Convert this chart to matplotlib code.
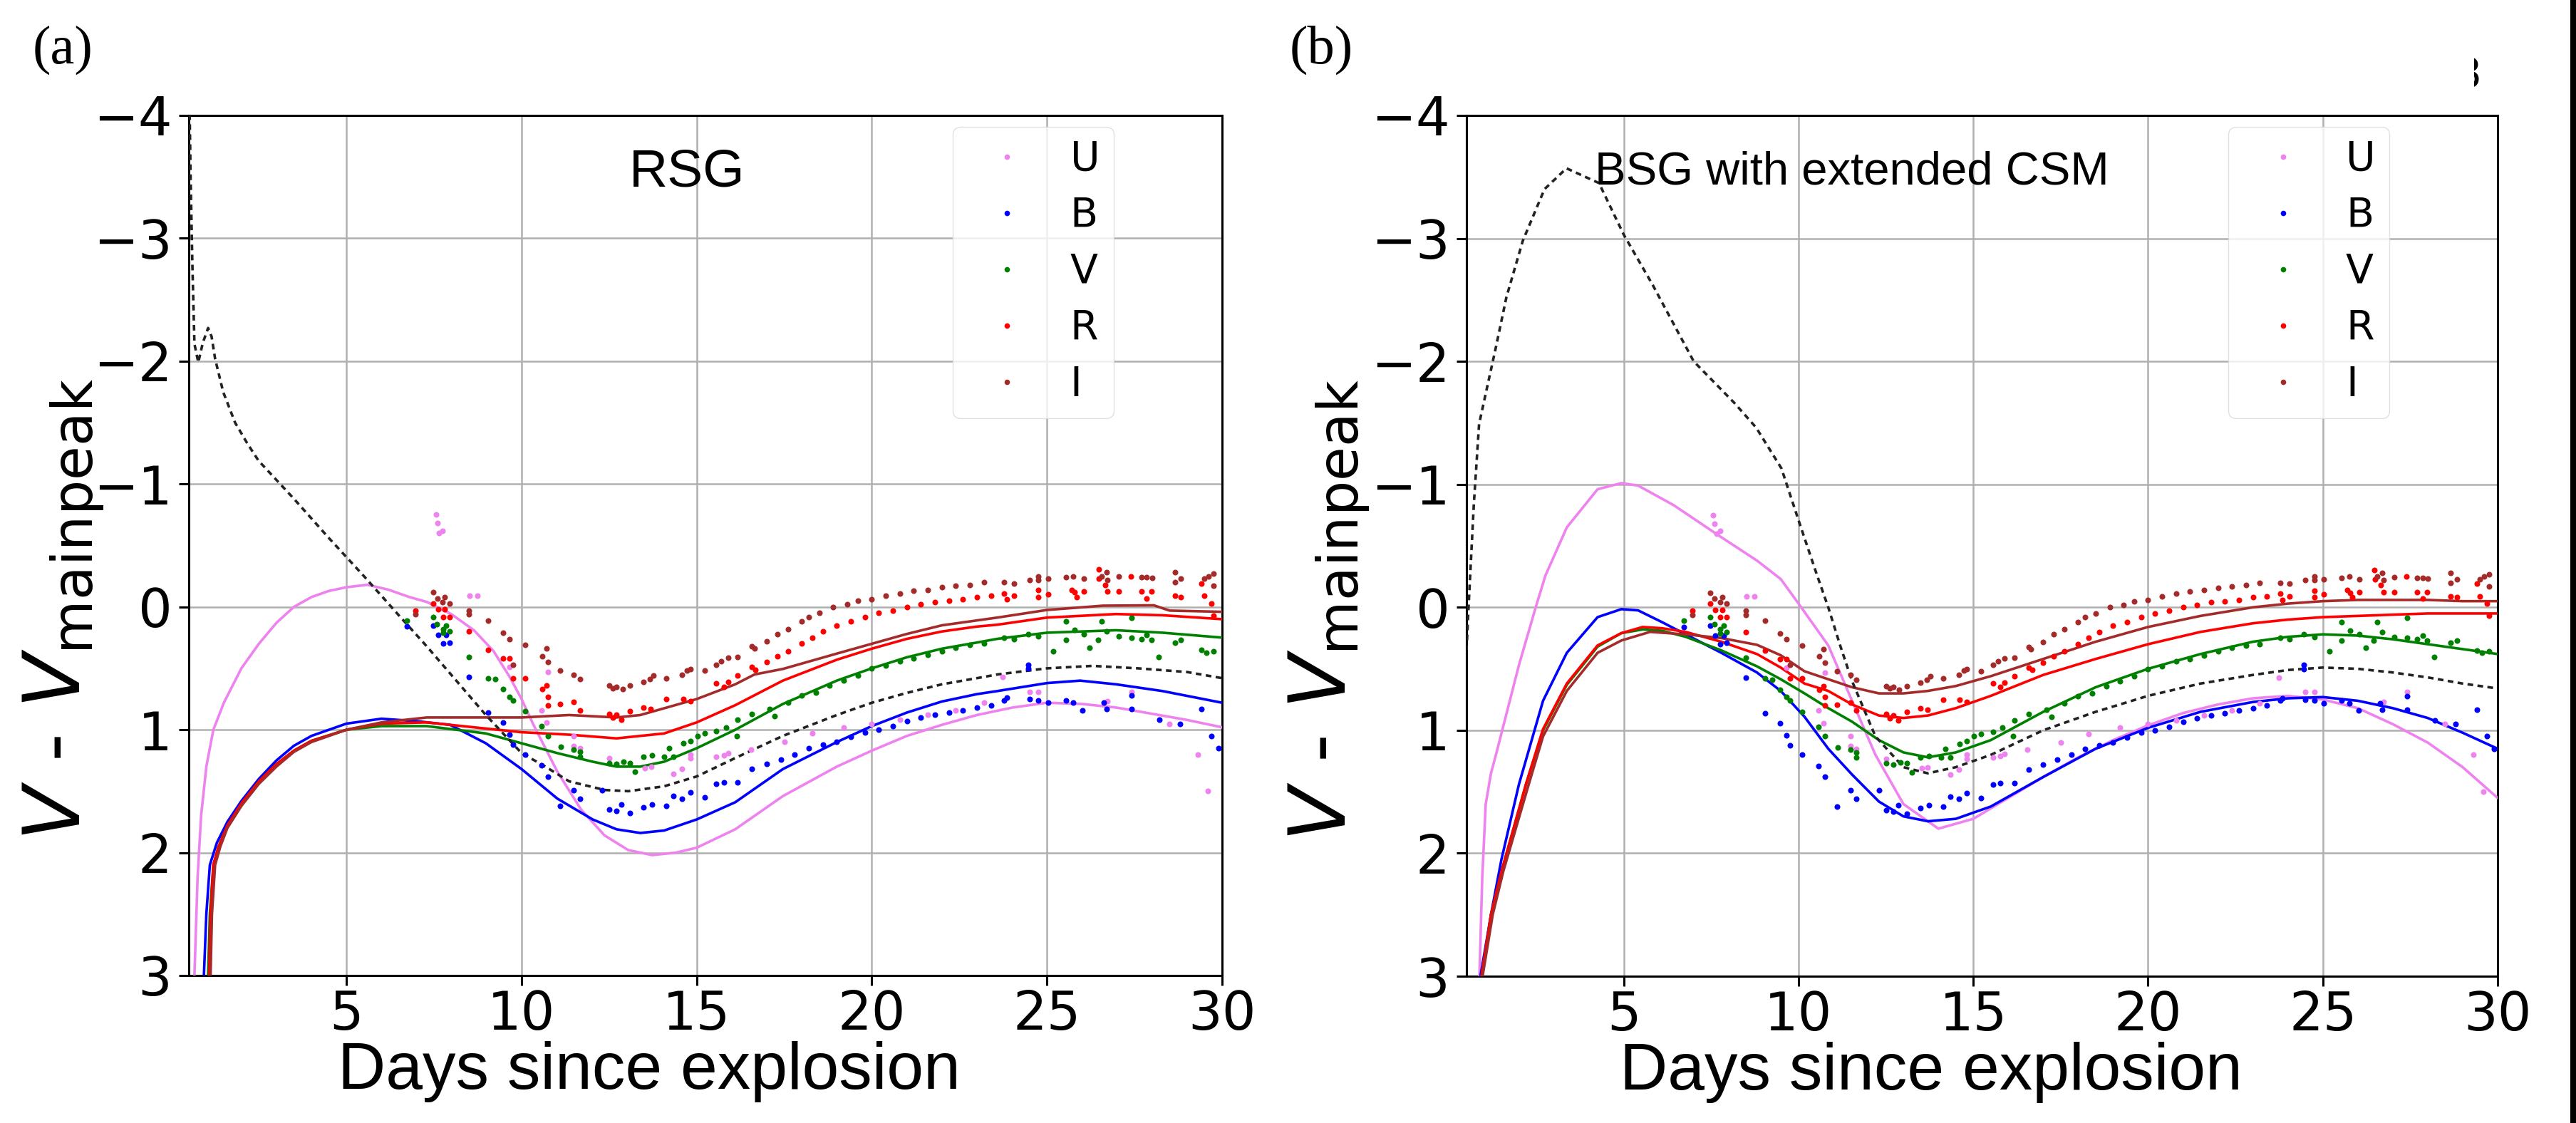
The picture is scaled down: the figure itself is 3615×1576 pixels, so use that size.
import matplotlib
matplotlib.use("Agg")
import matplotlib.pyplot as plt
from matplotlib.lines import Line2D
from matplotlib.patches import Rectangle

# ---------------- data ----------------
bands = ["U", "B", "V", "R", "I"]
band_colors = ["violet", "blue", "green", "red", "brown"]

# observations (same in both panels)
U_obs_d = [7.55, 7.6, 7.65, 7.75, 8.52, 8.74, 9.66, 10.58, 10.71, 10.76, 11.48, 11.48, 11.66, 12.51, 13.53, 13.7,
           14.34, 14.58, 14.82, 14.82, 15.56, 15.77, 15.9, 16.55, 17.5, 18.3, 19.2, 20.0, 20.8, 21.6, 22.4, 23.2,
           23.74, 24.5, 24.76, 26.73, 27.41, 28.5, 29.3, 29.6]
U_obs_m = [-0.75, -0.68, -0.6, -0.62, -0.09, -0.09, 0.49, 0.84, 0.94, 0.53, 1.05, 1.13, 1.15, 1.23, 1.31, 1.30,
           1.36, 1.32, 1.2, 1.23, 1.22, 1.21, 1.19, 1.16, 1.1, 1.03, 0.98, 0.95, 0.92, 0.88, 0.84, 0.78,
           0.57, 0.69, 0.69, 0.77, 0.69, 0.95, 1.2, 1.5]

B_obs_d = [6.72, 7.48, 7.62, 7.76, 7.85, 7.94, 8.5, 9.05, 9.47, 9.66, 9.76, 10.1, 10.58, 10.75, 11.1, 11.48, 11.66,
           12.31, 12.51, 12.71, 12.85, 13.09, 13.49, 13.73, 14.14, 14.34, 14.58, 14.82, 15.22, 15.56, 15.77, 16.17,
           16.58, 17.0, 17.4, 17.8, 18.2, 18.6, 19.0, 19.4, 19.8, 20.2, 20.6, 21.0, 21.4, 21.8, 22.2, 22.6, 23.0,
           23.4, 23.78, 23.85, 24.46, 24.46, 24.5, 24.76, 25.03, 25.54, 25.75, 26.02, 26.63, 26.7, 27.41, 27.41,
           28.2, 28.8, 29.4, 29.7, 29.9]
B_obs_m = [0.16, 0.15, 0.23, 0.30, 0.23, 0.29, 0.57, 0.86, 0.94, 1.04, 1.12, 1.2, 1.29, 1.38, 1.62, 1.49, 1.56,
           1.49, 1.65, 1.66, 1.61, 1.68, 1.63, 1.61, 1.62, 1.54, 1.56, 1.51, 1.55, 1.44, 1.43, 1.43,
           1.32, 1.28, 1.24, 1.2, 1.15, 1.12, 1.1, 1.06, 1.02, 1.0, 0.97, 0.93, 0.9, 0.88, 0.86, 0.84, 0.82,
           0.8, 0.76, 0.74, 0.47, 0.5, 0.75, 0.76, 0.78, 0.76, 0.78, 0.84, 0.78, 0.83, 0.72, 0.83,
           0.92, 0.95, 0.83, 1.05, 1.15]

V_obs_d = [6.72, 7.48, 7.59, 7.76, 7.76, 7.85, 7.94, 8.5, 9.05, 9.24, 9.47, 9.66, 9.76, 10.1, 10.58, 10.75, 11.12,
           11.48, 11.66, 11.66, 12.51, 12.71, 12.92, 13.09, 13.24, 13.49, 13.73, 14.07, 14.21, 14.34, 14.61, 14.82,
           15.02, 15.22, 15.56, 15.83, 16.14, 16.17, 16.58, 17.09, 17.23, 17.6, 18.0, 18.4, 18.8, 19.2, 19.6, 20.0,
           20.4, 20.8, 21.2, 21.6, 22.0, 22.4, 22.8, 23.2, 23.78, 24.05, 24.46, 24.76, 25.18, 25.54, 25.54, 25.78,
           26.05, 26.22, 26.46, 26.56, 26.7, 27.04, 27.41, 27.41, 27.7, 27.85, 27.98, 28.19, 28.66, 28.83, 29.4,
           29.55, 29.75]
V_obs_m = [0.11, 0.08, 0.14, 0.18, 0.21, 0.15, 0.2, 0.41, 0.58, 0.59, 0.67, 0.73, 0.76, 0.85, 0.97, 1.05, 1.14,
           1.16, 1.18, 1.22, 1.27, 1.28, 1.26, 1.27, 1.34, 1.22, 1.21, 1.22, 1.15, 1.22, 1.11, 1.09,
           1.05, 1.03, 1.01, 0.98, 1.05, 0.92, 0.87, 0.83, 0.89, 0.78, 0.72, 0.7, 0.64, 0.6, 0.56, 0.5,
           0.48, 0.44, 0.42, 0.39, 0.36, 0.33, 0.31, 0.3, 0.25, 0.26, 0.22, 0.24, 0.36, 0.12, 0.27, 0.19,
           0.22, 0.33, 0.27, 0.12, 0.2, 0.24, 0.087, 0.25, 0.26, 0.23, 0.27, 0.405, 0.29, 0.27, 0.35,
           0.37, 0.36]

R_obs_d = [6.96, 7.48, 7.62, 7.76, 7.81, 7.94, 8.5, 9.05, 9.47, 9.66, 9.76, 10.1, 10.6, 10.71, 10.76, 10.76, 11.1,
           11.48, 11.66, 12.51, 12.6, 12.71, 12.85, 13.09, 13.49, 13.69, 14.14, 14.61, 14.82, 15.56, 15.77, 15.9,
           16.17, 16.58, 16.68, 17.0, 17.3, 17.6, 18.0, 18.3, 18.6, 19.0, 19.4, 19.8, 20.2, 20.6, 21.0, 21.4, 21.8,
           22.2, 22.6, 23.0, 23.4, 23.78, 23.85, 24.05, 24.76, 24.76, 25.03, 25.7, 25.78, 25.85, 26.05, 26.48,
           26.49, 26.66, 26.73, 27.04, 27.4, 27.7, 27.85, 27.98, 28.66, 28.83, 29.4, 29.5, 29.7, 29.75]
R_obs_m = [0.03, -0.03, 0.02, 0.08, 0.02, 0.08, 0.2, 0.35, 0.42, 0.42, 0.58, 0.58, 0.67, 0.64, 0.73, 0.80, 0.79,
           0.775, 0.84, 0.87, 0.9, 0.88, 0.92, 0.85, 0.82, 0.83, 0.75, 0.75, 0.77, 0.62, 0.65, 0.61,
           0.56, 0.49, 0.51, 0.45, 0.4, 0.36, 0.3, 0.25, 0.2, 0.15, 0.12, 0.08, 0.05, 0.03, 0.0, -0.02, -0.04,
           -0.05, -0.06, -0.08, -0.09, -0.11, -0.06, -0.09, -0.135, -0.08, -0.105, -0.14, -0.12, -0.08, -0.125,
           -0.305, -0.23, -0.18, -0.125, -0.125, -0.25, -0.125, -0.07, -0.125, -0.09, -0.08, -0.19, -0.09, -0.03,
           0.07]

I_obs_d = [6.96, 7.48, 7.6, 7.75, 7.81, 7.94, 8.5, 8.5, 9.05, 9.47, 9.66, 9.76, 10.1, 10.6, 10.71, 10.76, 11.1,
           11.48, 11.66, 12.51, 12.6, 12.71, 12.88, 13.09, 13.49, 13.66, 13.77, 14.14, 14.58, 14.72, 14.82, 15.22,
           15.56, 15.7, 15.9, 16.17, 16.58, 16.65, 17.0, 17.3, 17.6, 18.0, 18.2, 18.5, 18.9, 19.3, 19.6, 20.0, 20.4,
           20.8, 21.2, 21.6, 22.0, 22.4, 22.8, 23.2, 23.78, 24.05, 24.5, 24.76, 24.76, 25.03, 25.54, 25.75, 26.05,
           26.56, 26.7, 26.73, 27.04, 27.7, 27.85, 28.0, 28.66, 28.66, 28.83, 29.5, 29.62, 29.75, 29.75]
I_obs_m = [0.06, -0.12, -0.07, -0.04, -0.08, -0.03, 0.03, 0.06, 0.11, 0.21, 0.26, 0.47, 0.31, 0.40, 0.34, 0.45,
           0.52, 0.55, 0.59, 0.64, 0.66, 0.65, 0.67, 0.64, 0.61, 0.59, 0.56, 0.58, 0.55, 0.515, 0.505, 0.52,
           0.47, 0.44, 0.415, 0.41, 0.32, 0.34, 0.28, 0.22, 0.18, 0.12, 0.08, 0.05, 0.0, -0.02, -0.05, -0.06,
           -0.09, -0.11, -0.13, -0.14, -0.16, -0.17, -0.18, -0.2, -0.2, -0.19, -0.22, -0.25, -0.22, -0.23, -0.24,
           -0.25, -0.23, -0.25, -0.28, -0.22, -0.245, -0.24, -0.24, -0.235, -0.28, -0.2, -0.23, -0.23, -0.25,
           -0.27, -0.17]

# ---- panel (a) RSG model curves ----
a_U_d = [0.66, 0.75, 0.85, 1.0, 1.2, 1.5, 2.0, 2.5, 3.0, 3.5, 4.0, 4.5, 5.0, 5.6, 6.2, 6.8, 7.3, 8.0, 8.64, 9.2,
         9.66, 10.0, 10.34, 11.02, 11.7, 12.37, 13.05, 13.73, 14.41, 15.0, 16.1, 17.46, 19, 20, 21, 22, 23, 24,
         25, 26, 27, 28, 29, 30]
a_U_m = [3.0, 2.2, 1.7, 1.3, 1.0, 0.78, 0.5, 0.3, 0.13, 0.0, -0.08, -0.13, -0.16, -0.18, -0.14, -0.08, -0.04,
         0.06, 0.19, 0.36, 0.57, 0.75, 0.96, 1.34, 1.65, 1.86, 1.98, 2.02, 2.0, 1.96, 1.81, 1.54, 1.3, 1.17,
         1.05, 0.96, 0.88, 0.82, 0.78, 0.79, 0.82, 0.87, 0.92, 0.98]
a_B_d = [0.93, 1.0, 1.1, 1.3, 1.6, 2.0, 2.5, 3.0, 3.5, 4.0, 5.0, 6.0, 7.0, 7.96, 8.98, 10.0, 11.02, 12.03, 12.71,
         13.39, 14.07, 15.0, 16.1, 17.46, 19, 20, 21, 22, 23, 23.58, 25, 25.95, 26.97, 28.3, 30]
a_B_m = [3.0, 2.5, 2.1, 1.92, 1.75, 1.58, 1.4, 1.25, 1.13, 1.05, 0.95, 0.91, 0.93, 0.96, 1.11, 1.32, 1.56, 1.73,
         1.81, 1.84, 1.82, 1.73, 1.59, 1.32, 1.1, 0.97, 0.86, 0.77, 0.71, 0.685, 0.62, 0.60, 0.63, 0.685, 0.78]
a_V_d = [1.05, 1.1, 1.2, 1.35, 1.6, 2.0, 2.5, 3.0, 3.5, 4.0, 5.0, 6.0, 7.29, 8.98, 10.0, 11.02, 12.03, 12.71,
         13.39, 14.07, 15.0, 16.1, 17.46, 19, 20, 21, 22, 23, 23.58, 25, 26.97, 28.3, 30]
a_V_m = [3.0, 2.5, 2.1, 1.95, 1.78, 1.6, 1.42, 1.28, 1.17, 1.09, 1.0, 0.97, 0.97, 1.03, 1.11, 1.19, 1.26, 1.30,
         1.30, 1.26, 1.15, 1.0, 0.79, 0.6, 0.5, 0.41, 0.34, 0.29, 0.26, 0.21, 0.19, 0.21, 0.25]
a_R_d = [1.08, 1.12, 1.2, 1.35, 1.6, 2.0, 2.5, 3.0, 3.5, 4.0, 5.0, 6.0, 7.29, 8.98, 10.0, 11.36, 12.71, 13.39,
         14.07, 15.0, 16.1, 17.46, 19, 20, 21, 22, 23, 23.58, 25, 26.97, 28.3, 30]
a_R_m = [3.0, 2.5, 2.1, 1.95, 1.78, 1.6, 1.42, 1.28, 1.17, 1.09, 1.0, 0.95, 0.94, 0.99, 1.02, 1.04, 1.07, 1.05,
         1.03, 0.94, 0.80, 0.60, 0.43, 0.34, 0.26, 0.2, 0.16, 0.145, 0.087, 0.058, 0.068, 0.10]
a_I_d = [1.12, 1.16, 1.25, 1.4, 1.6, 2.0, 2.5, 3.0, 3.5, 4.0, 5.0, 6.0, 7.29, 8.98, 10.0, 11.36, 12.71, 13.39,
         15.0, 16.1, 16.65, 17.46, 19, 20, 21, 22, 23, 23.58, 25, 26.6, 28.05, 28.5, 30]
a_I_m = [3.0, 2.5, 2.1, 1.95, 1.8, 1.62, 1.44, 1.3, 1.18, 1.1, 1.0, 0.94, 0.90, 0.90, 0.90, 0.88, 0.90, 0.88,
         0.75, 0.63, 0.55, 0.505, 0.38, 0.3, 0.22, 0.15, 0.11, 0.087, 0.025, -0.01, -0.013, 0.03, 0.04]
a_bol_d = [0.5, 0.55, 0.6, 0.66, 0.77, 0.9, 1.05, 1.15, 1.25, 1.48, 1.82, 2.17, 2.49, 3.5, 4.5, 5.5, 6.5, 7.29,
           8.98, 10.0, 10.68, 11.36, 12.37, 13.05, 14.07, 15.0, 16.1, 17.46, 19, 20, 21, 22, 23, 23.58, 25, 26.3,
           27.6, 29.0, 30]
a_bol_m = [-4.5, -3.5, -2.8, -2.14, -1.99, -2.15, -2.27, -2.2, -2.02, -1.75, -1.5, -1.33, -1.19, -0.88, -0.56,
           -0.25, 0.07, 0.32, 0.88, 1.19, 1.30, 1.42, 1.49, 1.50, 1.46, 1.38, 1.23, 1.05, 0.88, 0.78, 0.70, 0.63,
           0.58, 0.55, 0.50, 0.48, 0.50, 0.53, 0.58]

# ---- panel (b) BSG with extended CSM model curves ----
b_U_d = [0.87, 0.95, 1.05, 1.2, 1.36, 2.0, 2.48, 2.76, 3.37, 4.25, 4.93, 5.41, 6.43, 7.79, 8.81, 9.49, 10.0,
         10.85, 11.53, 12.2, 13.0, 14.0, 15.0, 16, 17, 18, 19, 20, 21, 22, 23, 24, 25, 26, 27, 28, 29, 30]
b_U_m = [3.0, 2.2, 1.6, 1.35, 1.18, 0.47, 0.0, -0.26, -0.65, -0.96, -1.01, -0.99, -0.83, -0.57, -0.38, -0.23,
         -0.03, 0.31, 0.76, 1.2, 1.6, 1.8, 1.72, 1.55, 1.38, 1.22, 1.08, 0.96, 0.86, 0.79, 0.74, 0.72, 0.75,
         0.82, 0.95, 1.1, 1.3, 1.55]
b_B_d = [0.9, 1.2, 1.5, 2.0, 2.69, 3.37, 4.25, 4.93, 5.41, 6.09, 6.77, 7.79, 8.81, 9.49, 10.17, 10.85, 11.53,
         12.3, 13.0, 13.7, 14.5, 15.5, 17, 18.5, 20, 21.5, 23, 24, 25, 26, 27, 28, 29, 30]
b_B_m = [3.0, 2.5, 2.05, 1.44, 0.76, 0.37, 0.08, 0.015, 0.025, 0.12, 0.22, 0.37, 0.53, 0.68, 0.89, 1.15, 1.36,
         1.58, 1.7, 1.74, 1.72, 1.62, 1.38, 1.15, 0.98, 0.85, 0.77, 0.74, 0.73, 0.76, 0.82, 0.9, 1.02, 1.15]
b_V_d = [0.93, 1.2, 1.5, 2.2, 2.69, 3.37, 4.25, 4.93, 5.54, 6.09, 6.77, 7.79, 8.81, 9.49, 10.17, 10.85, 11.53,
         12.3, 13.0, 13.7, 14.5, 15.5, 17, 18.5, 20, 21.5, 23, 24, 25, 26, 27, 28, 29, 30]
b_V_m = [3.0, 2.5, 2.15, 1.44, 1.0, 0.63, 0.32, 0.21, 0.18, 0.19, 0.24, 0.35, 0.48, 0.585, 0.70, 0.82, 0.93,
         1.08, 1.18, 1.22, 1.18, 1.08, 0.85, 0.65, 0.5, 0.38, 0.28, 0.24, 0.22, 0.23, 0.26, 0.3, 0.34, 0.38]
b_R_d = [0.93, 1.2, 1.5, 2.2, 2.69, 3.37, 4.25, 4.93, 5.54, 6.09, 6.77, 7.79, 8.81, 9.49, 10.17, 10.85, 11.53,
         12.3, 13.0, 13.7, 14.5, 15.5, 17, 18.5, 20, 21.5, 23, 24, 25, 26, 27, 28, 29, 30]
b_R_m = [3.0, 2.5, 2.15, 1.44, 0.99, 0.62, 0.31, 0.21, 0.16, 0.17, 0.2, 0.28, 0.38, 0.49, 0.62, 0.68, 0.79,
         0.88, 0.9, 0.88, 0.82, 0.72, 0.55, 0.42, 0.3, 0.2, 0.13, 0.1, 0.08, 0.07, 0.06, 0.05, 0.05, 0.05]
b_I_d = [0.96, 1.25, 1.55, 2.28, 2.69, 3.37, 4.25, 4.93, 5.75, 6.77, 7.79, 8.81, 9.49, 10.17, 10.85, 11.53, 12.3,
         13.0, 13.7, 14.5, 15.5, 17, 18.5, 20, 21.5, 23, 24, 25, 26, 27, 28, 29, 30]
b_I_m = [3.0, 2.5, 2.15, 1.44, 1.05, 0.68, 0.37, 0.27, 0.20, 0.22, 0.25, 0.305, 0.39, 0.52, 0.585, 0.65, 0.7,
         0.7, 0.68, 0.64, 0.56, 0.42, 0.28, 0.16, 0.07, 0.0, -0.03, -0.05, -0.06, -0.06, -0.06, -0.05, -0.05]
b_bol_d = [0.5, 0.56, 0.71, 0.86, 1.09, 1.33, 1.64, 2.11, 2.73, 3.36, 4.29, 5.0, 5.83, 7.0, 8.17, 8.79, 9.51,
           10.02, 10.53, 10.85, 11.19, 11.53, 12.2, 13.0, 13.7, 14.5, 15.5, 17, 18.5, 20, 21.5, 23, 24, 25, 26,
           27, 28, 29, 30]
b_bol_m = [0.35, -0.01, -0.84, -1.49, -1.79, -2.10, -2.52, -2.98, -3.40, -3.57, -3.45, -3.03, -2.62, -2.0,
           -1.66, -1.46, -1.13, -0.69, -0.26, 0.0, 0.31, 0.60, 1.05, 1.3, 1.35, 1.3, 1.2, 1.0, 0.85, 0.72, 0.62,
           0.55, 0.51, 0.49, 0.5, 0.53, 0.57, 0.62, 0.66]

x_ticks = [5, 10, 15, 20, 25, 30]
y_ticks = [-4, -3, -2, -1, 0, 1, 2, 3]
panel_titles = ["RSG", "BSG with extended CSM"]
panel_letters = ["(a)", "(b)"]
x_label = "Days since explosion"
y_label = r"$V$ - $V_{\rm mainpeak}$"

obs = [(U_obs_d, U_obs_m), (B_obs_d, B_obs_m), (V_obs_d, V_obs_m), (R_obs_d, R_obs_m), (I_obs_d, I_obs_m)]
models = [
    ([(a_U_d, a_U_m), (a_B_d, a_B_m), (a_V_d, a_V_m), (a_R_d, a_R_m), (a_I_d, a_I_m)], (a_bol_d, a_bol_m)),
    ([(b_U_d, b_U_m), (b_B_d, b_B_m), (b_V_d, b_V_m), (b_R_d, b_R_m), (b_I_d, b_I_m)], (b_bol_d, b_bol_m)),
]

# ---------------- figure ----------------
W, H = 3616, 1576
fig = plt.figure(figsize=(W / 100, H / 100), dpi=100)

def fx(px):
    return px / W

def fy(py):
    return 1 - py / H

axes_px = [(265, 1715, 162, 1369), (2058, 3505, 162, 1370)]
title_pos = [(0.482, 0.934), (0.374, 0.934)]
title_size = [54, 47]
xlabel_x = [0.4455, 0.4506]
ylabel_x = [-0.121, -0.133]
letter_px = [(46, 70), (1810, 70)]

for k in range(2):
    l, r, t, b = axes_px[k]
    ax = fig.add_axes([fx(l), fy(b), fx(r) - fx(l), fy(t) - fy(b)])
    ax.set_xlim(0.5, 30)
    ax.set_ylim(3, -4)
    ax.set_xticks(x_ticks)
    ax.set_yticks(y_ticks)
    ax.grid(True, color="#b0b0b0", lw=1.8)
    ax.set_axisbelow(True)
    for sp in ax.spines.values():
        sp.set_linewidth(2.2)
    ax.tick_params(axis="both", which="major", length=10, width=2.2, labelsize=54, direction="out")
    ax.tick_params(axis="y", pad=7)
    ax.tick_params(axis="x", pad=4)

    curves, bol = models[k]
    for (d, m), c in zip(curves, band_colors):
        ax.plot(d, m, color=c, lw=2.6, zorder=3)
    ax.plot(bol[0], bol[1], color="#222222", lw=2.6, linestyle=(0, (2.2, 1.7)), zorder=3)

    for (d, m), c in zip(obs, band_colors):
        ax.plot(d, m, linestyle="none", marker="o", ms=5.8, mew=0, color=c, zorder=4)

    handles = [Line2D([], [], linestyle="none", marker="o", ms=5.5, mew=0, color=c) for c in band_colors]
    ax.legend(handles, bands, loc="upper right", bbox_to_anchor=(0.895, 0.987), borderaxespad=0,
              prop={"family": "DejaVu Sans", "size": 41}, handlelength=2.0, handletextpad=0.55,
              labelspacing=0.42, borderpad=0.34, framealpha=0.8, edgecolor="0.85")

    ax.text(title_pos[k][0], title_pos[k][1], panel_titles[k], transform=ax.transAxes, ha="center",
            va="center", fontsize=title_size[k], family="Liberation Sans", zorder=6)

    ax.set_xlabel(x_label, fontsize=67, family="Liberation Sans")
    ax.xaxis.label.set_va("center")
    ax.xaxis.set_label_coords(xlabel_x[k], -0.112)
    ax.set_ylabel(y_label, fontsize=80)
    ax.yaxis.label.set_va("center")
    ax.yaxis.set_label_coords(ylabel_x[k], 0.425)

    fig.text(fx(letter_px[k][0]), fy(letter_px[k][1]), panel_letters[k], ha="left", va="center",
             fontsize=55, family="Liberation Serif")

# cropped artifacts at the right edge of the original figure
t3 = fig.text(fx(3483), fy(106), "3", ha="right", va="center", fontsize=42, family="DejaVu Sans")
t3.set_clip_path(Rectangle((3472, 0), 40, H, transform=None))
fig.patches.append(Rectangle((fx(3607), 0), fx(W) - fx(3607), 1, transform=fig.transFigure,
                             facecolor="black", edgecolor="none"))

fig.savefig("out.png", dpi=100)
